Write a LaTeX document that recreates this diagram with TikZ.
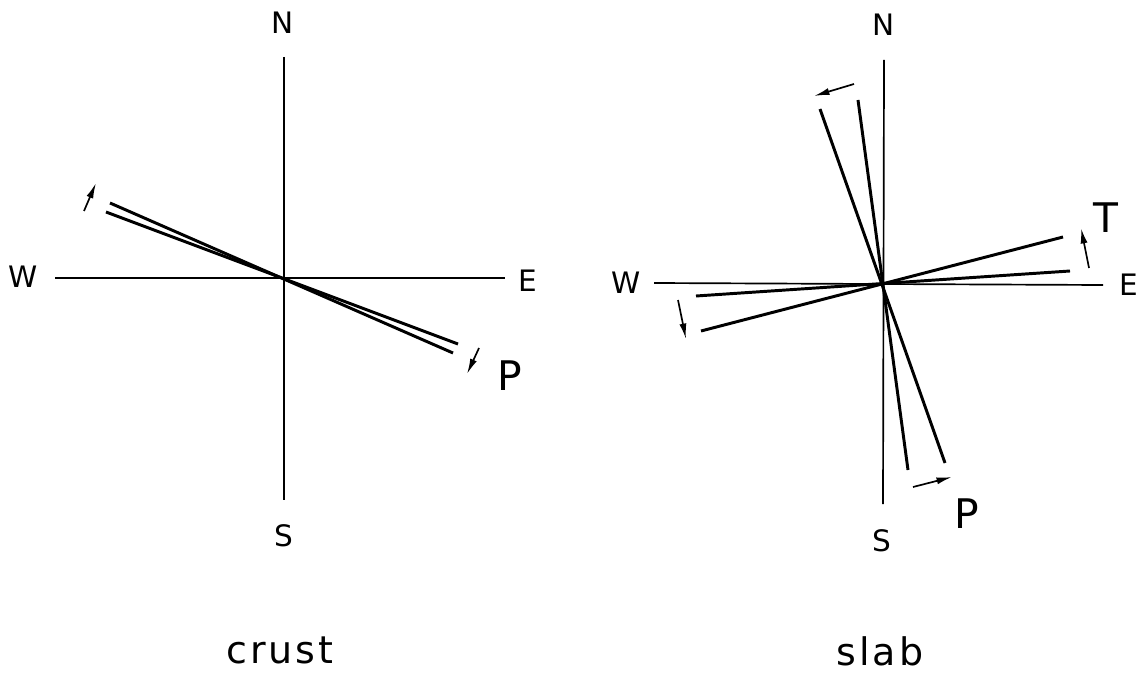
\documentclass[tikz,border=0pt]{standalone}
\usepackage{fontspec}
\usetikzlibrary{arrows.meta}
\newfontfamily\dirfont{DejaVu Sans}
\newfontfamily\capfont[LetterSpace=8]{DejaVu Sans}
\begin{document}
\begin{tikzpicture}[x=0.025cm,y=-0.025cm]
\tikzset{axis/.style={line width=1.2pt},
         plane/.style={line width=2.1pt},
         slip/.style={line width=1.2pt,-{Latex[length=11pt,width=5pt]}},
         dirlab/.style={font=\dirfont\fontsize{21}{25}\selectfont},
         axlab/.style={font=\dirfont\fontsize{29}{33}\selectfont},
         caplab/.style={font=\capfont\fontsize{27}{31}\selectfont,anchor=base}}
\useasboundingbox (0,0) rectangle (1141,675);

% crust
\draw[axis] (284,57) -- (284,500);
\draw[axis] (55,278) -- (505,278);
\node[dirlab] (crustN) at (283,23) {N};
\node[dirlab] (crustS) at (284,536) {S};
\node[dirlab] (crustW) at (23,277) {W};
\node[dirlab] (crustE) at (528,281) {E};
\foreach \a/\b/\c/\d in {110/203/453/353, 106/212/458/344}
    \draw[plane] (\a,\b) -- (\c,\d);
\draw[slip] (84,211) -- (96,183);
\draw[slip] (479,348) -- (467,374);
\node[axlab] (crustP) at (510,376) {P};
\node[caplab] (crust) at (280,663) {crust};

% slab
\draw[axis] (884,60) -- (883,504);
\draw[axis] (654,283) -- (1103,285);
\node[dirlab] (slabN) at (884,25) {N};
\node[dirlab] (slabS) at (882,541) {S};
\node[dirlab] (slabW) at (626,283) {W};
\node[dirlab] (slabE) at (1129,285) {E};
\foreach \a/\b/\c/\d in {820/109/945/463, 858/100/908/470, 1063/237/701/331, 1070/271/696/296}
    \draw[plane] (\a,\b) -- (\c,\d);
\draw[slip] (854,84) -- (814,96);
\draw[slip] (1089,268) -- (1081,228);
\draw[slip] (678,300) -- (686,339);
\draw[slip] (913,487) -- (952,477);
\node[axlab] (slabT) at (1106,218) {T};
\node[axlab] (slabP) at (967,514) {P};
\node[caplab] (slab) at (880,665) {slab};
\end{tikzpicture}
\end{document}
